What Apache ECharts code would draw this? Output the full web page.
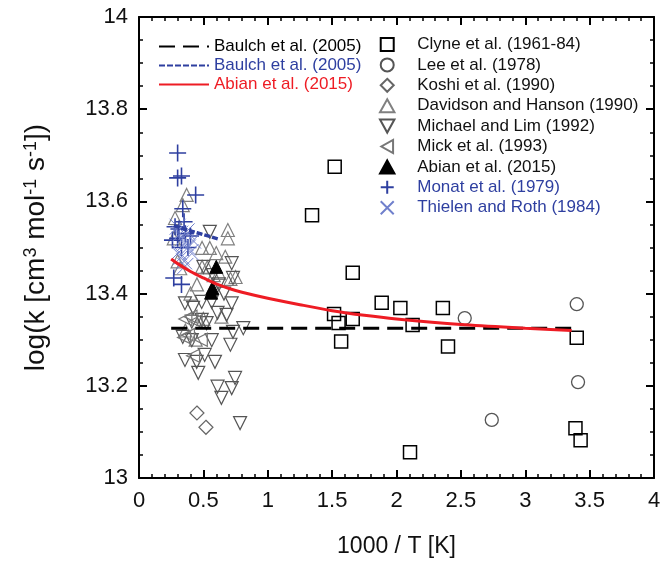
<!DOCTYPE html>
<html>
<head>
<meta charset="utf-8">
<script src="https://cdn.jsdelivr.net/npm/echarts@6/dist/echarts.min.js"></script>
<style>html,body{margin:0;padding:0;background:#fff}#c{width:668px;height:563px}</style>
</head>
<body>
<div id="c"></div>
<script>
// ---- data ----
const baulchBlackX = [0.25, 3.36];
const baulchBlackY = [13.325, 13.325];
const baulchBlueX = [0.27, 0.35, 0.45, 0.55, 0.62];
const baulchBlueY = [13.548, 13.540, 13.532, 13.524, 13.518];
const abianLineX = [0.25, 0.3, 0.4, 0.5, 0.6, 0.7, 0.8, 1.0, 1.25, 1.5, 1.75, 2.0, 2.5, 3.0, 3.36];
const abianLineY = [13.475, 13.465, 13.448, 13.434, 13.421, 13.411, 13.403, 13.390, 13.376, 13.363, 13.353, 13.345, 13.333, 13.325, 13.320];

const clyneX = [1.52, 1.344, 1.66, 1.885, 2.03, 2.36, 1.515, 1.55, 1.66, 2.125, 1.57, 2.40, 2.105, 3.40, 3.39, 3.43];
const clyneY = [13.675, 13.57, 13.445, 13.38, 13.369, 13.369, 13.356, 13.336, 13.345, 13.332, 13.296, 13.285, 13.056, 13.304, 13.108, 13.082];
const leeX = [2.53, 2.74, 3.40, 3.41];
const leeY = [13.347, 13.126, 13.377, 13.208];
const koshiX = [0.45, 0.52];
const koshiY = [13.141, 13.11];
const davidsonX = [0.37, 0.34, 0.28, 0.27, 0.69, 0.69, 0.49, 0.55, 0.60, 0.67, 0.49, 0.53, 0.75, 0.71, 0.30, 0.32, 0.58, 0.62, 0.45, 0.40, 0.50, 0.36, 0.44, 0.64];
const davidsonY = [13.614, 13.592, 13.564, 13.52, 13.538, 13.52, 13.499, 13.499, 13.488, 13.48, 13.458, 13.457, 13.436, 13.432, 13.47, 13.455, 13.44, 13.445, 13.42, 13.40, 13.345, 13.32, 13.30, 13.35];
const michaelX = [0.55, 0.72, 0.50, 0.575, 0.73, 0.357, 0.42, 0.487, 0.565, 0.72, 0.61, 0.68, 0.41, 0.487, 0.525, 0.81, 0.73, 0.34, 0.41, 0.565, 0.71, 0.357, 0.448, 0.59, 0.51, 0.46, 0.746, 0.72, 0.61, 0.64, 0.785, 0.62, 0.66];
const michaelY = [13.534, 13.466, 13.458, 13.44, 13.434, 13.379, 13.369, 13.382, 13.382, 13.379, 13.358, 13.354, 13.339, 13.343, 13.336, 13.325, 13.317, 13.306, 13.299, 13.299, 13.289, 13.256, 13.252, 13.252, 13.267, 13.228, 13.217, 13.195, 13.198, 13.174, 13.119, 13.42, 13.40];
const mickX = [0.36, 0.40, 0.44, 0.38, 0.35, 0.42, 0.48];
const mickY = [13.345, 13.35, 13.34, 13.31, 13.305, 13.265, 13.30];
const abianPtsX = [0.60, 0.57, 0.56];
const abianPtsY = [13.458, 13.412, 13.402];
const monatX = [0.30, 0.33, 0.30, 0.44, 0.34, 0.35, 0.27, 0.33, 0.26, 0.30, 0.36, 0.40, 0.28, 0.33, 0.38, 0.31];
const monatY = [13.705, 13.655, 13.651, 13.614, 13.584, 13.556, 13.434, 13.42, 13.516, 13.52, 13.53, 13.525, 13.545, 13.50, 13.50, 13.54];
const thielenX = [0.30, 0.32, 0.34, 0.36, 0.38, 0.40, 0.33, 0.35, 0.37, 0.31, 0.42, 0.36];
const thielenY = [13.545, 13.53, 13.52, 13.51, 13.50, 13.49, 13.48, 13.47, 13.535, 13.49, 13.515, 13.46];

const xTicks = ['0', '0.5', '1', '1.5', '2', '2.5', '3', '3.5', '4'];

const zip = (xs, ys) => xs.map((x, i) => [x, ys[i]]);
const T = 'rgba(0,0,0,0)';
const FONT = 'Liberation Sans, Arial, sans-serif';
const sym = {
  square: 'path://M0,0 L10,0 L10,10 L0,10 Z',
  diamond: 'path://M5,0 L10,5 L5,10 L0,5 Z',
  up: 'path://M5,0 L10,9 L0,9 Z',
  down: 'path://M0,0 L10,0 L5,9 Z',
  left: 'path://M9,0 L9,10 L0,5 Z',
  plus: 'path://M5,0 L5,10 M0,5 L10,5',
  cross: 'path://M0,0 L10,10 M10,0 L0,10'
};
function scat(name, xs, ys, symbol, size, color, bw, fill) {
  return {
    name, type: 'scatter', data: zip(xs, ys), symbol, symbolSize: size,
    itemStyle: { color: fill || T, borderColor: color, borderWidth: bw, opacity: 1 },
    emphasis: { disabled: true }, z: 2
  };
}

const chart = echarts.init(document.getElementById('c'));
const tickStyle = {
  axisLine: { onZero: false, lineStyle: { color: '#000', width: 2 } },
  axisTick: { inside: true, length: 8, lineStyle: { width: 2, color: '#000' } },
  splitLine: { show: false }
};
chart.setOption({
  animation: false,
  backgroundColor: '#fff',
  textStyle: { fontFamily: FONT },
  grid: { left: 139, right: 14, top: 17, bottom: 85 },
  legend: [
    {
      orient: 'vertical', left: 153, top: 33, itemWidth: 50, itemHeight: 14, itemGap: 2,
      selectedMode: false,
      itemStyle: { color: T, borderWidth: 0, opacity: 0 },
      textStyle: { fontSize: 17, fontFamily: FONT },
      data: [
        { name: 'Baulch et al. (2005)', textStyle: { color: '#000' } },
        { name: 'Baulch et al. (2005) ', textStyle: { color: '#2e3fa0' } },
        { name: 'Abian et al. (2015)', textStyle: { color: '#ee1c24' } }
      ]
    },
    {
      orient: 'vertical', left: 374, top: 31, itemWidth: 50, itemHeight: 13, itemGap: 3.4,
      selectedMode: false,
      textStyle: { fontSize: 17, color: '#111', fontFamily: FONT },
      data: [
        { name: 'Clyne et al. (1961-84)' },
        { name: 'Lee et al. (1978)' },
        { name: 'Koshi et al. (1990)' },
        { name: 'Davidson and Hanson (1990)' },
        { name: 'Michael and Lim (1992)' },
        { name: 'Mick et al. (1993)' },
        { name: 'Abian et al. (2015) ' },
        { name: 'Monat et al. (1979)', textStyle: { color: '#2e3fa0' } },
        { name: 'Thielen and Roth (1984)', textStyle: { color: '#2e3fa0' } }
      ]
    }
  ],
  xAxis: [
    Object.assign({
      type: 'value', min: 0, max: 4, interval: 0.5, position: 'bottom',
      name: '1000 / T [K]', nameLocation: 'middle', nameGap: 57,
      nameTextStyle: { fontSize: 23, color: '#111' },
      minorTick: { show: true, splitNumber: 5, length: 4, lineStyle: { width: 1.5, color: '#000' } },
      axisLabel: { fontSize: 22, color: '#111', margin: 12, formatter: (v) => xTicks[Math.round(v * 2)] }
    }, tickStyle),
    Object.assign({
      type: 'value', min: 0, max: 4, interval: 0.5, position: 'top',
      minorTick: { show: true, splitNumber: 5, length: 4, lineStyle: { width: 1.5, color: '#000' } },
      axisLabel: { show: false }
    }, tickStyle)
  ],
  yAxis: [
    Object.assign({
      type: 'value', min: 13, max: 14, interval: 0.2, position: 'left',
      name: 'log(k [cm{sup|3} mol{sup|-1} s{sup|-1}])',
      nameLocation: 'middle', nameGap: 89, nameRotate: 90,
      nameTextStyle: { fontSize: 28, color: '#111', rich: { sup: { fontSize: 18, verticalAlign: 'top', color: '#111' } } },
      minorTick: { show: true, splitNumber: 4, length: 4, lineStyle: { width: 1.5, color: '#000' } },
      axisLabel: { fontSize: 22, color: '#111', margin: 11 }
    }, tickStyle),
    Object.assign({
      type: 'value', min: 13, max: 14, interval: 0.2, position: 'right',
      minorTick: { show: true, splitNumber: 4, length: 4, lineStyle: { width: 1.5, color: '#000' } },
      axisLabel: { show: false }
    }, tickStyle)
  ],
  series: [
    scat('Clyne et al. (1961-84)', clyneX, clyneY, sym.square, 13, '#000', 1.5),
    scat('Lee et al. (1978)', leeX, leeY, 'circle', 13, '#555', 1.3),
    scat('Koshi et al. (1990)', koshiX, koshiY, sym.diamond, 14, '#666', 1.2),
    scat('Davidson and Hanson (1990)', davidsonX, davidsonY, sym.up, 13, '#808080', 1.2),
    scat('Michael and Lim (1992)', michaelX, michaelY, sym.down, 13, '#555', 1.2),
    scat('Mick et al. (1993)', mickX, mickY, sym.left, 13, '#777', 1.2),
    scat('Abian et al. (2015) ', abianPtsX, abianPtsY, sym.up, 13, '#000', 1, '#000'),
    scat('Monat et al. (1979)', monatX, monatY, sym.plus, 17, '#2e3fa0', 1.6),
    scat('Thielen and Roth (1984)', thielenX, thielenY, sym.cross, 16, '#7080cc', 1),
    {
      name: 'Baulch et al. (2005)', type: 'line', data: zip(baulchBlackX, baulchBlackY),
      symbol: 'none', z: 5, lineStyle: { color: '#000', width: 3, type: [16, 8] }, itemStyle: { color: '#000' }
    },
    {
      name: 'Baulch et al. (2005) ', type: 'line', data: zip(baulchBlueX, baulchBlueY),
      symbol: 'none', z: 5, lineStyle: { color: '#2e3fa0', width: 3.5, type: [6, 2] }, itemStyle: { color: '#2e3fa0' }
    },
    {
      name: 'Abian et al. (2015)', type: 'line', data: zip(abianLineX, abianLineY), smooth: 0.3,
      symbol: 'none', z: 5, lineStyle: { color: '#ee1c24', width: 3 }, itemStyle: { color: '#ee1c24' }
    }
  ]
});
</script>
</body>
</html>
